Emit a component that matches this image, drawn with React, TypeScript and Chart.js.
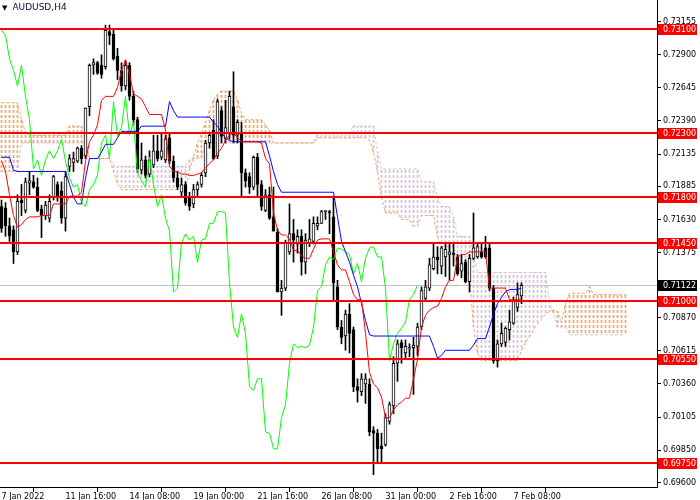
import { useEffect, useRef } from 'react';
import Chart from 'chart.js/auto';

// AUDUSD H4 with Ichimoku Kinko Hyo (MT4 white template look).
const FONT = 'DejaVu Sans';

// candles, one per H4 bar starting 7 Jan 2022 00:00
const open = [
  0.7173, 0.7172, 0.7158, 0.7155, 0.7138, 0.7178, 0.7170, 0.7191, 0.7192, 0.7188, // 0
  0.7171, 0.7166, 0.7164, 0.7180, 0.7190, 0.7185, 0.7164, 0.7204, 0.7207, 0.7208, // 10
  0.7218, 0.7212, 0.7250, 0.7282, 0.7284, 0.7282, 0.7281, 0.7308, 0.7306, 0.7289, // 20
  0.7278, 0.7266, 0.7282, 0.7258, 0.7240, 0.7201, 0.7209, 0.7198, 0.7205, 0.7216, // 30
  0.7211, 0.7209, 0.7226, 0.7208, 0.7195, 0.7184, 0.7190, 0.7180, 0.7175, 0.7186, // 40
  0.7190, 0.7199, 0.7222, 0.7232, 0.7212, 0.7247, 0.7225, 0.7230, 0.7250, 0.7228, // 50
  0.7230, 0.7199, 0.7196, 0.7188, 0.7211, 0.7190, 0.7170, 0.7182, 0.7165, 0.7153, // 60
  0.7107, 0.7110, 0.7138, 0.7152, 0.7144, 0.7150, 0.7130, 0.7145, 0.7146, 0.7158, // 70
  0.7160, 0.7169, 0.7169, 0.7165, 0.7111, 0.7080, 0.7073, 0.7090, 0.7078, 0.7034, // 80
  0.7030, 0.7036, 0.7036, 0.7000, 0.6998, 0.6988, 0.6989, 0.7007, 0.7019, 0.7052, // 90
  0.7068, 0.7060, 0.7063, 0.7064, 0.7065, 0.7080, 0.7102, 0.7110, 0.7125, 0.7134, // 100
  0.7127, 0.7134, 0.7136, 0.7137, 0.7134, 0.7123, 0.7130, 0.7115, 0.7133, 0.7134, // 110
  0.7138, 0.7141, 0.7141, 0.7110, 0.7054, 0.7067, 0.7068, 0.7078, 0.7083, 0.7095, // 120
  0.7104,
];
const high = [
  0.7178, 0.7176, 0.7164, 0.7158, 0.7182, 0.7190, 0.7195, 0.7200, 0.7197, 0.7195,
  0.7174, 0.7177, 0.7182, 0.7197, 0.7192, 0.7192, 0.7200, 0.7213, 0.7215, 0.7219,
  0.7220, 0.7249, 0.7283, 0.7287, 0.7285, 0.7290, 0.7313, 0.7313, 0.7310, 0.7295,
  0.7284, 0.7286, 0.7284, 0.7262, 0.7242, 0.7222, 0.7212, 0.7216, 0.7228, 0.7228,
  0.7229, 0.7228, 0.7230, 0.7212, 0.7200, 0.7195, 0.7192, 0.7184, 0.7190, 0.7192,
  0.7199, 0.7224, 0.7230, 0.7240, 0.7256, 0.7250, 0.7255, 0.7262, 0.7277, 0.7240,
  0.7238, 0.7202, 0.7199, 0.7212, 0.7214, 0.7193, 0.7186, 0.7188, 0.7188, 0.7156,
  0.7116, 0.7147, 0.7175, 0.7163, 0.7155, 0.7155, 0.7152, 0.7163, 0.7165, 0.7165,
  0.7170, 0.7170, 0.7170, 0.7181, 0.7116, 0.7085, 0.7093, 0.7098, 0.7080, 0.7040,
  0.7044, 0.7044, 0.7040, 0.7003, 0.7001, 0.6998, 0.7013, 0.7022, 0.7057, 0.7070,
  0.7070, 0.7070, 0.7067, 0.7072, 0.7083, 0.7111, 0.7116, 0.7133, 0.7144, 0.7142,
  0.7142, 0.7145, 0.7145, 0.7145, 0.7136, 0.7136, 0.7132, 0.7136, 0.7168, 0.7145,
  0.7145, 0.7150, 0.7145, 0.7112, 0.7070, 0.7083, 0.7080, 0.7093, 0.7103, 0.7114,
  0.7114,
];
const low = [
  0.7153, 0.7150, 0.7146, 0.7129, 0.7136, 0.7166, 0.7168, 0.7182, 0.7187, 0.7169,
  0.7149, 0.7163, 0.7161, 0.7178, 0.7177, 0.7160, 0.7154, 0.7200, 0.7200, 0.7207,
  0.7206, 0.7210, 0.7243, 0.7275, 0.7275, 0.7272, 0.7279, 0.7298, 0.7286, 0.7271,
  0.7262, 0.7263, 0.7255, 0.7236, 0.7199, 0.7198, 0.7195, 0.7196, 0.7203, 0.7208,
  0.7209, 0.7207, 0.7206, 0.7192, 0.7186, 0.7180, 0.7174, 0.7170, 0.7172, 0.7180,
  0.7188, 0.7196, 0.7218, 0.7209, 0.7210, 0.7222, 0.7222, 0.7225, 0.7222, 0.7222,
  0.7180, 0.7188, 0.7183, 0.7186, 0.7180, 0.7170, 0.7169, 0.7163, 0.7154, 0.7107,
  0.7089, 0.7108, 0.7136, 0.7130, 0.7137, 0.7120, 0.7121, 0.7142, 0.7144, 0.7155,
  0.7160, 0.7163, 0.7152, 0.7101, 0.7078, 0.7067, 0.7062, 0.7060, 0.7030, 0.7022,
  0.7027, 0.7021, 0.6996, 0.6966, 0.6975, 0.6975, 0.6988, 0.7005, 0.7013, 0.7038,
  0.7052, 0.7056, 0.7057, 0.7028, 0.7058, 0.7078, 0.7100, 0.7108, 0.7124, 0.7121,
  0.7121, 0.7119, 0.7116, 0.7127, 0.7120, 0.7118, 0.7114, 0.7107, 0.7132, 0.7133,
  0.7133, 0.7133, 0.7108, 0.7052, 0.7049, 0.7065, 0.7065, 0.7070, 0.7082, 0.7092,
  0.7098,
];
const close = [
  0.7156, 0.7158, 0.7150, 0.7138, 0.7177, 0.7176, 0.7192, 0.7193, 0.7188, 0.7170,
  0.7166, 0.7174, 0.7177, 0.7196, 0.7181, 0.7164, 0.7196, 0.7210, 0.7210, 0.7218,
  0.7210, 0.7249, 0.7282, 0.7284, 0.7276, 0.7275, 0.7309, 0.7305, 0.7287, 0.7278,
  0.7266, 0.7282, 0.7258, 0.7240, 0.7202, 0.7209, 0.7197, 0.7209, 0.7216, 0.7210,
  0.7216, 0.7225, 0.7208, 0.7195, 0.7188, 0.7190, 0.7176, 0.7173, 0.7186, 0.7190,
  0.7197, 0.7222, 0.7228, 0.7210, 0.7254, 0.7227, 0.7234, 0.7258, 0.7228, 0.7238,
  0.7199, 0.7193, 0.7188, 0.7211, 0.7190, 0.7173, 0.7182, 0.7164, 0.7154, 0.7107,
  0.7110, 0.7145, 0.7152, 0.7147, 0.7150, 0.7130, 0.7147, 0.7148, 0.7160, 0.7160,
  0.7169, 0.7169, 0.7168, 0.7114, 0.7080, 0.7072, 0.7090, 0.7075, 0.7034, 0.7031,
  0.7040, 0.7040, 0.6999, 0.6998, 0.6986, 0.6986, 0.7010, 0.7020, 0.7052, 0.7067,
  0.7064, 0.7065, 0.7064, 0.7066, 0.7080, 0.7108, 0.7111, 0.7128, 0.7134, 0.7132,
  0.7141, 0.7140, 0.7138, 0.7136, 0.7121, 0.7129, 0.7115, 0.7133, 0.7141, 0.7142,
  0.7134, 0.7134, 0.7110, 0.7054, 0.7067, 0.7075, 0.7079, 0.7084, 0.7101, 0.7105,
  0.71122,
];

// Ichimoku lines
const tenkan = [
  0.7208, 0.7200, 0.7182, 0.7166, 0.7157, 0.7159, 0.7163, 0.7165, 0.7165, 0.7165,
  0.7166, 0.7166, 0.7166, 0.7175, 0.7175, 0.7175, 0.7175, 0.7181, 0.7181, 0.7181,
  0.7184, 0.7208, 0.7223, 0.7228, 0.7236, 0.7255, 0.7258, 0.7258, 0.7258, 0.7265,
  0.7278, 0.7286, 0.7275, 0.7260, 0.7258, 0.7256, 0.7250, 0.7244, 0.7244, 0.7244,
  0.7244, 0.7232, 0.7204, 0.7200, 0.7200, 0.7198, 0.7198, 0.7197, 0.7197, 0.7198,
  0.7199, 0.7203, 0.7206, 0.7209, 0.7214, 0.7218, 0.7224, 0.7228, 0.7230, 0.7226,
  0.7223, 0.7223, 0.7223, 0.7223, 0.7223, 0.7222, 0.7210, 0.7206, 0.7168, 0.7155,
  0.7151, 0.7151, 0.7148, 0.7139, 0.7139, 0.7135, 0.7133, 0.7133, 0.7140, 0.7147,
  0.7148, 0.7148, 0.7148, 0.7138, 0.7128, 0.7124, 0.7124, 0.7115, 0.7105, 0.7101,
  0.7101, 0.7075, 0.7045, 0.7036, 0.7033, 0.7026, 0.7010, 0.7010, 0.7016, 0.7020,
  0.7022, 0.7025, 0.7025, 0.7040, 0.7055, 0.7080, 0.7089, 0.7093, 0.7095, 0.7096,
  0.7102, 0.7111, 0.7116, 0.7116, 0.7134, 0.7136, 0.7136, 0.7138, 0.7138, 0.7138,
  0.7138, 0.7138, 0.7110, 0.7110, 0.7110, 0.7110, 0.7110, 0.7101, 0.7101, 0.7101,
  0.7102,
];
const kijun = [
  0.7211, 0.7211, 0.7211, 0.7201, 0.7200, 0.7200, 0.7200, 0.7200, 0.7200, 0.7200,
  0.7200, 0.7200, 0.7200, 0.7200, 0.7200, 0.7200, 0.7200, 0.7190, 0.7180, 0.7175,
  0.7175, 0.7195, 0.7210, 0.7210, 0.7210, 0.7215, 0.7221, 0.7221, 0.7221, 0.7226,
  0.7231, 0.7231, 0.7231, 0.7231, 0.7231, 0.7235, 0.7235, 0.7235, 0.7235, 0.7235,
  0.7235, 0.7235, 0.7254, 0.7247, 0.7242, 0.7242, 0.7242, 0.7242, 0.7242, 0.7242,
  0.7242, 0.7242, 0.7242, 0.7238, 0.7235, 0.7230, 0.7226, 0.7224, 0.7223, 0.7223,
  0.7223, 0.7223, 0.7223, 0.7223, 0.7223, 0.7223, 0.7223, 0.7212, 0.7200, 0.7190,
  0.7184, 0.7184, 0.7184, 0.7184, 0.7184, 0.7184, 0.7184, 0.7184, 0.7184, 0.7184,
  0.7184, 0.7184, 0.7184, 0.7184, 0.7165, 0.7146, 0.7138, 0.7130, 0.7120, 0.7111,
  0.7098, 0.7085, 0.7074, 0.7073, 0.7073, 0.7073, 0.7073, 0.7073, 0.7073, 0.7073,
  0.7073, 0.7073, 0.7073, 0.7073, 0.7073, 0.7073, 0.7073, 0.7073, 0.7065, 0.7056,
  0.7058, 0.7062, 0.7062, 0.7062, 0.7062, 0.7062, 0.7062, 0.7062, 0.7066, 0.7071,
  0.7071, 0.7071, 0.7080, 0.7090, 0.7098, 0.7103, 0.7107, 0.7109, 0.7109, 0.7109,
  0.7110,
];
// lagging span: each close plotted 26 bars back
const chikou = close.slice(26);
// leading spans run 26 bars past the last candle
const spanA = [
  0.7253, 0.7253, 0.7253, 0.7253, 0.7253, 0.7240, 0.7230, 0.7228, 0.7228, 0.7228,
  0.7228, 0.7228, 0.7228, 0.7228, 0.7228, 0.7228, 0.7228, 0.7235, 0.7235, 0.7235,
  0.7235, 0.7225, 0.7210, 0.7210, 0.7210, 0.7210, 0.7210, 0.7210, 0.7200, 0.7190,
  0.7186, 0.7186, 0.7186, 0.7186, 0.7186, 0.7186, 0.7186, 0.7186, 0.7186, 0.7186,
  0.7186, 0.7186, 0.7186, 0.7186, 0.7186, 0.7186, 0.7186, 0.7201, 0.7211, 0.7222,
  0.7229, 0.7238, 0.7247, 0.7255, 0.7260, 0.7262, 0.7262, 0.7262, 0.7262, 0.7255,
  0.7245, 0.7240, 0.7240, 0.7240, 0.7240, 0.7240, 0.7236, 0.7232, 0.7222, 0.7222,
  0.7222, 0.7222, 0.7222, 0.7222, 0.7222, 0.7222, 0.7222, 0.7222, 0.7222, 0.7226,
  0.7226, 0.7226, 0.7226, 0.7226, 0.7226, 0.7226, 0.7226, 0.7226, 0.7226, 0.7226,
  0.7226, 0.7226, 0.7224, 0.7215, 0.7200, 0.7180, 0.7168, 0.7168, 0.7168, 0.7168,
  0.7163, 0.7163, 0.7163, 0.7158, 0.7158, 0.7166, 0.7166, 0.7166, 0.7166, 0.7150,
  0.7142, 0.7142, 0.7142, 0.7142, 0.7125, 0.7125, 0.7125, 0.7119, 0.7080, 0.7060,
  0.7054, 0.7054, 0.7054, 0.7054, 0.7054, 0.7054, 0.7054, 0.7054, 0.7054, 0.7054,
  0.7062, 0.7068, 0.7072, 0.7078, 0.7082, 0.7086, 0.7090, 0.7092, 0.7093, 0.7092,
  0.7084, 0.7098, 0.7106, 0.7106, 0.7106, 0.7106, 0.7106, 0.7111, 0.7105, 0.7105,
  0.7105, 0.7105, 0.7105, 0.7105, 0.7105, 0.7105, 0.7105,
];
const spanB = [
  0.7200, 0.7200, 0.7200, 0.7200, 0.7200, 0.7222, 0.7222, 0.7222, 0.7222, 0.7222,
  0.7222, 0.7222, 0.7222, 0.7222, 0.7222, 0.7222, 0.7222, 0.7222, 0.7222, 0.7222,
  0.7222, 0.7222, 0.7210, 0.7210, 0.7210, 0.7210, 0.7210, 0.7210, 0.7206, 0.7204,
  0.7204, 0.7204, 0.7204, 0.7204, 0.7204, 0.7204, 0.7204, 0.7204, 0.7204, 0.7204,
  0.7204, 0.7204, 0.7204, 0.7204, 0.7204, 0.7204, 0.7204, 0.7210, 0.7210, 0.7210,
  0.7210, 0.7222, 0.7222, 0.7222, 0.7222, 0.7222, 0.7222, 0.7222, 0.7222, 0.7222,
  0.7222, 0.7222, 0.7222, 0.7222, 0.7222, 0.7222, 0.7222, 0.7222, 0.7222, 0.7222,
  0.7222, 0.7222, 0.7222, 0.7222, 0.7222, 0.7222, 0.7222, 0.7222, 0.7222, 0.7230,
  0.7230, 0.7230, 0.7230, 0.7230, 0.7230, 0.7230, 0.7230, 0.7230, 0.7235, 0.7235,
  0.7235, 0.7235, 0.7235, 0.7235, 0.7215, 0.7202, 0.7202, 0.7202, 0.7202, 0.7202,
  0.7202, 0.7202, 0.7202, 0.7202, 0.7202, 0.7192, 0.7192, 0.7192, 0.7192, 0.7180,
  0.7173, 0.7173, 0.7173, 0.7165, 0.7150, 0.7150, 0.7150, 0.7150, 0.7135, 0.7122,
  0.7122, 0.7122, 0.7122, 0.7122, 0.7122, 0.7122, 0.7122, 0.7122, 0.7122, 0.7122,
  0.7122, 0.7122, 0.7122, 0.7122, 0.7122, 0.7122, 0.7122, 0.7100, 0.7090, 0.7080,
  0.7080, 0.7080, 0.7074, 0.7074, 0.7074, 0.7074, 0.7074, 0.7074, 0.7074, 0.7074,
  0.7074, 0.7074, 0.7074, 0.7074, 0.7074, 0.7074, 0.7074,
];

const levels = [0.731, 0.723, 0.718, 0.7145, 0.71, 0.7055, 0.6975];
const bid = 0.71122;
const priceTicks = [
  0.73155, 0.729, 0.72645, 0.7239, 0.72135, 0.71885, 0.7163, 0.71375,
  0.7087, 0.70615, 0.7036, 0.70105, 0.6985, 0.696,
];
const timeTickBars = [0, 16, 32, 48, 64, 80, 96, 112, 128];
const timeTickLabels = [
  '7 Jan 2022', '11 Jan 16:00', '14 Jan 08:00', '19 Jan 00:00', '21 Jan 16:00',
  '26 Jan 08:00', '31 Jan 00:00', '2 Feb 16:00', '7 Feb 08:00',
];

const pts = (arr: number[]) => arr.map((v, i) => ({ x: i, y: v }));

function dashPattern(color: string) {
  const c = document.createElement('canvas');
  c.width = 1;
  c.height = 5;
  const g = c.getContext('2d')!;
  g.fillStyle = color;
  g.fillRect(0, 0, 1, 3);
  return g.createPattern(c, 'repeat')!;
}

const overlay = {
  id: 'mtOverlay',
  beforeDatasetsDraw(chart: any) {
    const { ctx, chartArea, scales } = chart;
    const py = Math.round(scales.y.getPixelForValue(bid)) + 0.5;
    ctx.save();
    ctx.strokeStyle = '#c0c0c0';
    ctx.lineWidth = 1;
    ctx.beginPath();
    ctx.moveTo(chartArea.left, py);
    ctx.lineTo(chartArea.right, py);
    ctx.stroke();
    ctx.restore();
  },
  afterDatasetsDraw(chart: any) {
    const { ctx, chartArea, scales } = chart;
    ctx.save();
    ctx.fillStyle = '#ff0000';
    levels.forEach((lv) => {
      const py = Math.round(scales.y.getPixelForValue(lv));
      ctx.fillRect(chartArea.left, py - 1, chartArea.right - chartArea.left, 2);
    });
    ctx.restore();
  },
  afterDraw(chart: any) {
    const { ctx, chartArea, scales } = chart;
    const box = (v: number, bg: string) => {
      const py = Math.round(scales.y.getPixelForValue(v));
      ctx.fillStyle = bg;
      ctx.fillRect(chartArea.right + 1, py - 5, 39, 11);
      ctx.fillStyle = '#ffffff';
      ctx.fillText(v.toFixed(5), chartArea.right + 6, py + 0.5);
    };
    ctx.save();
    ctx.font = `8px "${FONT}"`;
    ctx.textBaseline = 'middle';
    ctx.textAlign = 'left';
    levels.forEach((lv) => box(lv, '#ff0000'));
    box(bid, '#000000');
    ctx.restore();
  },
};

export default function App() {
  const canvasRef = useRef<HTMLCanvasElement | null>(null);

  useEffect(() => {
    document.body.style.margin = '0';
    const el = canvasRef.current;
    if (!el) return;
    const sandy = dashPattern('#f4a460');
    const thistle = dashPattern('#d8bfd8');
    const font = { family: FONT, size: 8 };

    const chart = new Chart(el, {
      type: 'line',
      data: {
        datasets: [
          { type: 'line', label: 'Tenkan-sen', data: pts(tenkan), borderColor: '#ff0000', borderWidth: 1, pointRadius: 0, order: 1 },
          { type: 'line', label: 'Kijun-sen', data: pts(kijun), borderColor: '#0000ff', borderWidth: 1, pointRadius: 0, order: 2 },
          { type: 'line', label: 'Chikou Span', data: pts(chikou), borderColor: '#00ff00', borderWidth: 1, pointRadius: 0, order: 3 },
          {
            type: 'bar',
            label: 'body',
            data: open.map((o, i) => ({ x: i, y: [o, close[i]] })),
            backgroundColor: open.map((o, i) => (close[i] >= o ? '#ffffff' : '#000000')),
            borderColor: '#000000',
            borderWidth: 1,
            borderSkipped: false,
            barThickness: 3,
            minBarLength: 1,
            grouped: false,
            order: 5,
          },
          {
            type: 'bar',
            label: 'wick',
            data: low.map((l, i) => ({ x: i, y: [l, high[i]] })),
            backgroundColor: '#000000',
            barThickness: 1,
            grouped: false,
            order: 6,
          },
          { type: 'line', label: 'Senkou Span A', data: pts(spanA), borderColor: '#f4a460', borderWidth: 1, borderDash: [3, 2], pointRadius: 0, order: 8 },
          { type: 'line', label: 'Senkou Span B', data: pts(spanB), borderColor: '#d8bfd8', borderWidth: 1, borderDash: [3, 2], pointRadius: 0, order: 8 },
          {
            type: 'bar',
            label: 'Kumo',
            data: spanA.map((a, i) => ({ x: i, y: [a, spanB[i]] })),
            backgroundColor: spanA.map((a, i) => (a >= spanB[i] ? sandy : thistle)),
            barThickness: 1,
            grouped: false,
            order: 10,
          },
        ],
      } as any,
      options: {
        responsive: true,
        maintainAspectRatio: false,
        animation: false,
        events: [],
        layout: { padding: 0 },
        plugins: { legend: { display: false }, tooltip: { enabled: false } },
        scales: {
          x: {
            type: 'linear',
            min: -0.375,
            max: 163.875,
            offset: false,
            afterBuildTicks: (s: any) => {
              s.ticks = timeTickBars.map((v) => ({ value: v }));
            },
            afterFit: (s: any) => {
              s.height = 13;
              s.paddingLeft = 0;
              s.paddingRight = 0;
            },
            ticks: {
              autoSkip: false,
              maxRotation: 0,
              align: 'start',
              padding: 0,
              color: '#000000',
              font,
              callback: (v: any) => timeTickLabels[timeTickBars.indexOf(Number(v))] ?? '',
            },
            grid: { drawOnChartArea: false, drawTicks: true, tickLength: 5, color: '#000000' },
            border: { display: true, color: '#000000', width: 1 },
          },
          y: {
            type: 'linear',
            position: 'right',
            min: 0.695647,
            max: 0.733239,
            afterBuildTicks: (s: any) => {
              s.ticks = priceTicks.map((v) => ({ value: v }));
            },
            afterFit: (s: any) => {
              s.width = 43;
              s.paddingTop = 0;
              s.paddingBottom = 0;
            },
            ticks: {
              autoSkip: false,
              padding: 2,
              color: '#000000',
              font,
              callback: (v: any) => Number(v).toFixed(5),
            },
            grid: { drawOnChartArea: false, drawTicks: true, tickLength: 4, color: '#000000' },
            border: { display: true, color: '#000000', width: 1 },
          },
        },
      } as any,
      plugins: [overlay],
    });
    return () => chart.destroy();
  }, []);

  return (
    <div style={{ position: 'relative', width: 700, height: 500, background: '#ffffff' }}>
      <canvas ref={canvasRef} />
      <div
        style={{
          position: 'absolute',
          left: 2,
          top: 1,
          fontFamily: FONT,
          fontSize: 9,
          color: '#0b0b3b',
          whiteSpace: 'nowrap',
          lineHeight: '12px',
        }}
      >
        <span style={{ fontSize: 7, color: '#000000', marginRight: 5 }}>▼</span>
        AUDUSD,H4
      </div>
    </div>
  );
}
